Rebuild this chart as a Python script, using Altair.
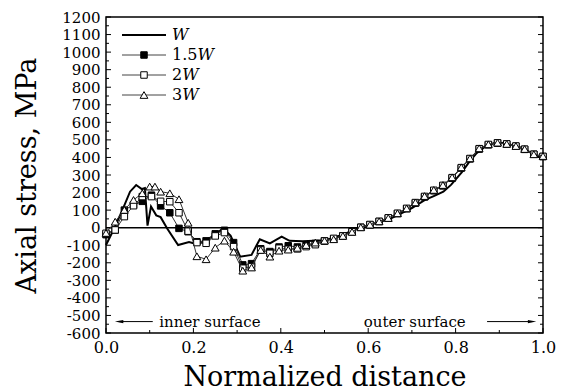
import altair as alt
import pandas as pd

# ---------------- data ----------------
grid_x = [0.0, 0.021, 0.042, 0.063, 0.083, 0.104, 0.125, 0.146, 0.167, 0.188,
          0.208, 0.229, 0.25, 0.271, 0.292, 0.313, 0.333, 0.354, 0.375, 0.396,
          0.417, 0.438, 0.458, 0.479, 0.5, 0.521, 0.542, 0.563, 0.583, 0.604,
          0.625, 0.646, 0.667, 0.688, 0.708, 0.729, 0.75, 0.771, 0.792, 0.813,
          0.833, 0.854, 0.875, 0.896, 0.917, 0.938, 0.958, 0.979, 1.0]

w_x = [0.0, 0.017, 0.036, 0.055, 0.069, 0.082, 0.089, 0.095, 0.103, 0.115,
       0.125, 0.14, 0.165, 0.19, 0.21, 0.24, 0.268, 0.285, 0.307, 0.333,
       0.352, 0.375, 0.402, 0.42, 0.45, 0.5, 0.52, 0.55, 0.58, 0.6,
       0.65, 0.7, 0.73, 0.75, 0.772, 0.79, 0.814, 0.83, 0.848, 0.87,
       0.89, 0.91, 0.93, 0.95, 0.97, 0.985, 1.0]
w_y = [-99, -13, 91, 205, 243, 220, 225, 12, 120, 70,
       60, -5, -99, -82, -95, -55, -5, -45, -165, -155,
       -66, -90, -51, -75, -78, -72, -58, -32, 0, 12,
       50, 112, 158, 180, 205, 245, 315, 370, 424, 465,
       483, 482, 470, 455, 430, 405, 398]

w15_y = [-40, -13, 100, 130, 150, 185, 124, 85, -4, -23,
         -80, -75, -35, -15, -85, -212, -205, -120, -136, -110,
         -103, -110, -100, -90, -75, -63, -47, -23, 2, 17,
         35, 55, 80, 108, 140, 175, 210, 238, 282, 340,
         392, 448, 472, 482, 476, 464, 446, 418, 405]

w2_y = [-32, -13, 63, 125, 177, 177, 150, 148, 85, -20,
        -85, -89, -47, -28, -108, -231, -222, -127, -146, -117,
        -123, -121, -108, -97, -76, -61, -47, -23, 2, 18,
        36, 56, 82, 110, 143, 178, 213, 241, 285, 342,
        394, 450, 474, 483, 477, 465, 447, 418, 406]

w3_x = [0.0, 0.021, 0.042, 0.063, 0.083, 0.1, 0.112, 0.125, 0.146, 0.167,
        0.188, 0.208, 0.229, 0.25, 0.271, 0.292, 0.313, 0.333, 0.354, 0.375,
        0.396, 0.417, 0.438, 0.458, 0.479, 0.5, 0.521, 0.542, 0.563, 0.583,
        0.604, 0.625, 0.646, 0.667, 0.688, 0.708, 0.729, 0.75, 0.771, 0.792,
        0.813, 0.833, 0.854, 0.875, 0.896, 0.917, 0.938, 0.958, 0.979, 1.0]
w3_y = [-30, 34, 101, 158, 196, 234, 234, 205, 196, 162,
        28, -163, -180, -114, -74, -137, -245, -227, -127, -165,
        -131, -125, -115, -99, -85, -74, -66, -47, -24, 2,
        17, 36, 55, 82, 110, 144, 180, 215, 243, 287,
        344, 395, 452, 475, 484, 477, 465, 448, 418, 408]

x_tick_labels = [0.0, 0.2, 0.4, 0.6, 0.8, 1.0]
x_minor_ticks = [0.1, 0.3, 0.5, 0.7, 0.9]
y_tick_labels = [-600, -500, -400, -300, -200, -100, 0, 100, 200, 300, 400,
                 500, 600, 700, 800, 900, 1000, 1100, 1200]
y_minor_ticks = [-550, -450, -350, -250, -150, -50, 50, 150, 250, 350, 450,
                 550, 650, 750, 850, 950, 1050, 1150]

legend_numbers = ["", "1.5", "2", "3"]
annot_text = ["inner surface", "outer surface"]
annot_x = [0.122, 0.59]
annot_y = [-535, -535]
arrow_x1 = [0.03, 0.872]
arrow_x2 = [0.107, 0.975]

# ---------------- styling ----------------
FONT = "DejaVu Serif"
W, H = 437, 316

xs = alt.Scale(domain=[0, 1], nice=False, zero=False)
ys = alt.Scale(domain=[-600, 1200], nice=False, zero=False)

x_axis = alt.Axis(values=x_tick_labels, format=".1f", ticks=False, domain=False,
                  grid=False, labelFont=FONT, labelFontSize=16, labelPadding=6,
                  labelColor="black", labelFlush=False, labelOverlap=False,
                  title="Normalized distance", titleFont=FONT, titleFontSize=27,
                  titleFontWeight="normal", titleColor="black", titleX=W / 2,
                  titleY=52, titleAlign="center", titleBaseline="alphabetic")
y_axis = alt.Axis(values=y_tick_labels, labelExpr="'' + datum.value", ticks=False,
                  domain=False, grid=False, labelFont=FONT, labelFontSize=15,
                  labelPadding=6, labelColor="black", labelFlush=False,
                  labelOverlap=False, title="Axial stress, MPa", titleFont=FONT,
                  titleFontSize=27, titleFontWeight="normal", titleColor="black",
                  titleAngle=270, titleX=-71, titleY=H / 2, titleAlign="center",
                  titleBaseline="alphabetic")


def X(field):
    return alt.X(f"{field}:Q", scale=xs, axis=x_axis)


def Y(field):
    return alt.Y(f"{field}:Q", scale=ys, axis=y_axis)


layers = []

# axis ticks (inward)
ymaj = pd.DataFrame({"y": y_tick_labels})
ymin = pd.DataFrame({"y": y_minor_ticks})
xmaj = pd.DataFrame({"x": x_tick_labels})
xmin = pd.DataFrame({"x": x_minor_ticks})
for df, ln in ((ymaj, 5), (ymin, 3)):
    layers.append(alt.Chart(df).mark_rule(color="black", strokeWidth=1).encode(
        y=Y("y"), x=alt.value(0), x2=alt.value(ln)))
    layers.append(alt.Chart(df).mark_rule(color="black", strokeWidth=1).encode(
        y=Y("y"), x=alt.value(W - ln), x2=alt.value(W)))
for df, ln in ((xmaj, 5), (xmin, 3)):
    layers.append(alt.Chart(df).mark_rule(color="black", strokeWidth=1).encode(
        x=X("x"), y=alt.value(H - ln), y2=alt.value(H)))

# zero line
layers.append(alt.Chart(pd.DataFrame({"y": [0]})).mark_rule(
    color="black", strokeWidth=1.5).encode(y=Y("y")))

# series
df_w = pd.DataFrame({"x": w_x, "y": w_y})
df15 = pd.DataFrame({"x": grid_x, "y": w15_y})
df2 = pd.DataFrame({"x": grid_x, "y": w2_y})
df3 = pd.DataFrame({"x": w3_x, "y": w3_y})

layers.append(alt.Chart(df_w).mark_line(color="black", strokeWidth=2).encode(
    x=X("x"), y=Y("y")))
for df, shape, fill, size in ((df15, "square", "black", 42),
                              (df2, "square", "white", 42),
                              (df3, "triangle-up", "white", 60)):
    layers.append(alt.Chart(df).mark_line(color="#333", strokeWidth=1).encode(
        x=X("x"), y=Y("y")))
    layers.append(alt.Chart(df).mark_point(
        shape=shape, filled=True, fill=fill, stroke="black", strokeWidth=1,
        size=size, opacity=1).encode(x=X("x"), y=Y("y")))

# annotations
df_ann = pd.DataFrame({"x": annot_x, "y": annot_y, "t": annot_text})
layers.append(alt.Chart(df_ann).mark_text(
    font=FONT, fontSize=15, align="left", baseline="middle", color="black").encode(
    x=X("x"), y=Y("y"), text="t:N"))
df_arr = pd.DataFrame({"x": arrow_x1, "x2": arrow_x2, "y": annot_y})
layers.append(alt.Chart(df_arr).mark_rule(color="black", strokeWidth=1).encode(
    x=X("x"), x2="x2:Q", y=Y("y")))
head_l = pd.DataFrame({"x": [arrow_x1[0]], "y": [annot_y[0]]})
head_r = pd.DataFrame({"x": [arrow_x2[1]], "y": [annot_y[1]]})
layers.append(alt.Chart(head_l).mark_point(
    shape="M-1,0L1,-0.4L1,0.4Z", filled=True, color="black", size=70, opacity=1).encode(
    x=X("x"), y=Y("y")))
layers.append(alt.Chart(head_r).mark_point(
    shape="M1,0L-1,-0.4L-1,0.4Z", filled=True, color="black", size=70, opacity=1).encode(
    x=X("x"), y=Y("y")))

# legend (drawn in pixel space, top-left inside plot)
one = pd.DataFrame({"a": [0]})
leg_x0, leg_x1, leg_mid, leg_tx = 16, 60, 38, 66
num_w = {"": 0, "1.5": 25.5, "2": 10.2, "3": 10.2}
styles = [None, ("square", "black", 42), ("square", "white", 42),
          ("triangle-up", "white", 60)]
for r, num in enumerate(legend_numbers):
    yy = 18 + 20 * r
    if r == 0:
        layers.append(alt.Chart(one).mark_rule(color="black", strokeWidth=2).encode(
            x=alt.value(leg_x0), x2=alt.value(leg_x1), y=alt.value(yy)))
    else:
        shape, fill, size = styles[r]
        layers.append(alt.Chart(one).mark_rule(color="#444", strokeWidth=1).encode(
            x=alt.value(leg_x0), x2=alt.value(leg_x1), y=alt.value(yy)))
        layers.append(alt.Chart(one).mark_point(
            shape=shape, filled=True, fill=fill, stroke="black", strokeWidth=1,
            size=size, opacity=1).encode(x=alt.value(leg_mid), y=alt.value(yy)))
        layers.append(alt.Chart(one).mark_text(
            text=num, font=FONT, fontSize=16, align="left", baseline="middle",
            color="black").encode(x=alt.value(leg_tx), y=alt.value(yy)))
    layers.append(alt.Chart(one).mark_text(
        text="W", font=FONT, fontSize=16, fontStyle="italic", align="left",
        baseline="middle", color="black").encode(
        x=alt.value(leg_tx + num_w[num]), y=alt.value(yy)))

chart = alt.layer(*layers).properties(
    width=W, height=H,
    autosize=alt.AutoSizeParams(type="none"),
    padding={"left": 98, "top": 9, "right": 13, "bottom": 57},
).configure_view(stroke="black", strokeWidth=1.5)

chart.save("out.html", embed_options={"renderer": "svg", "actions": False})
